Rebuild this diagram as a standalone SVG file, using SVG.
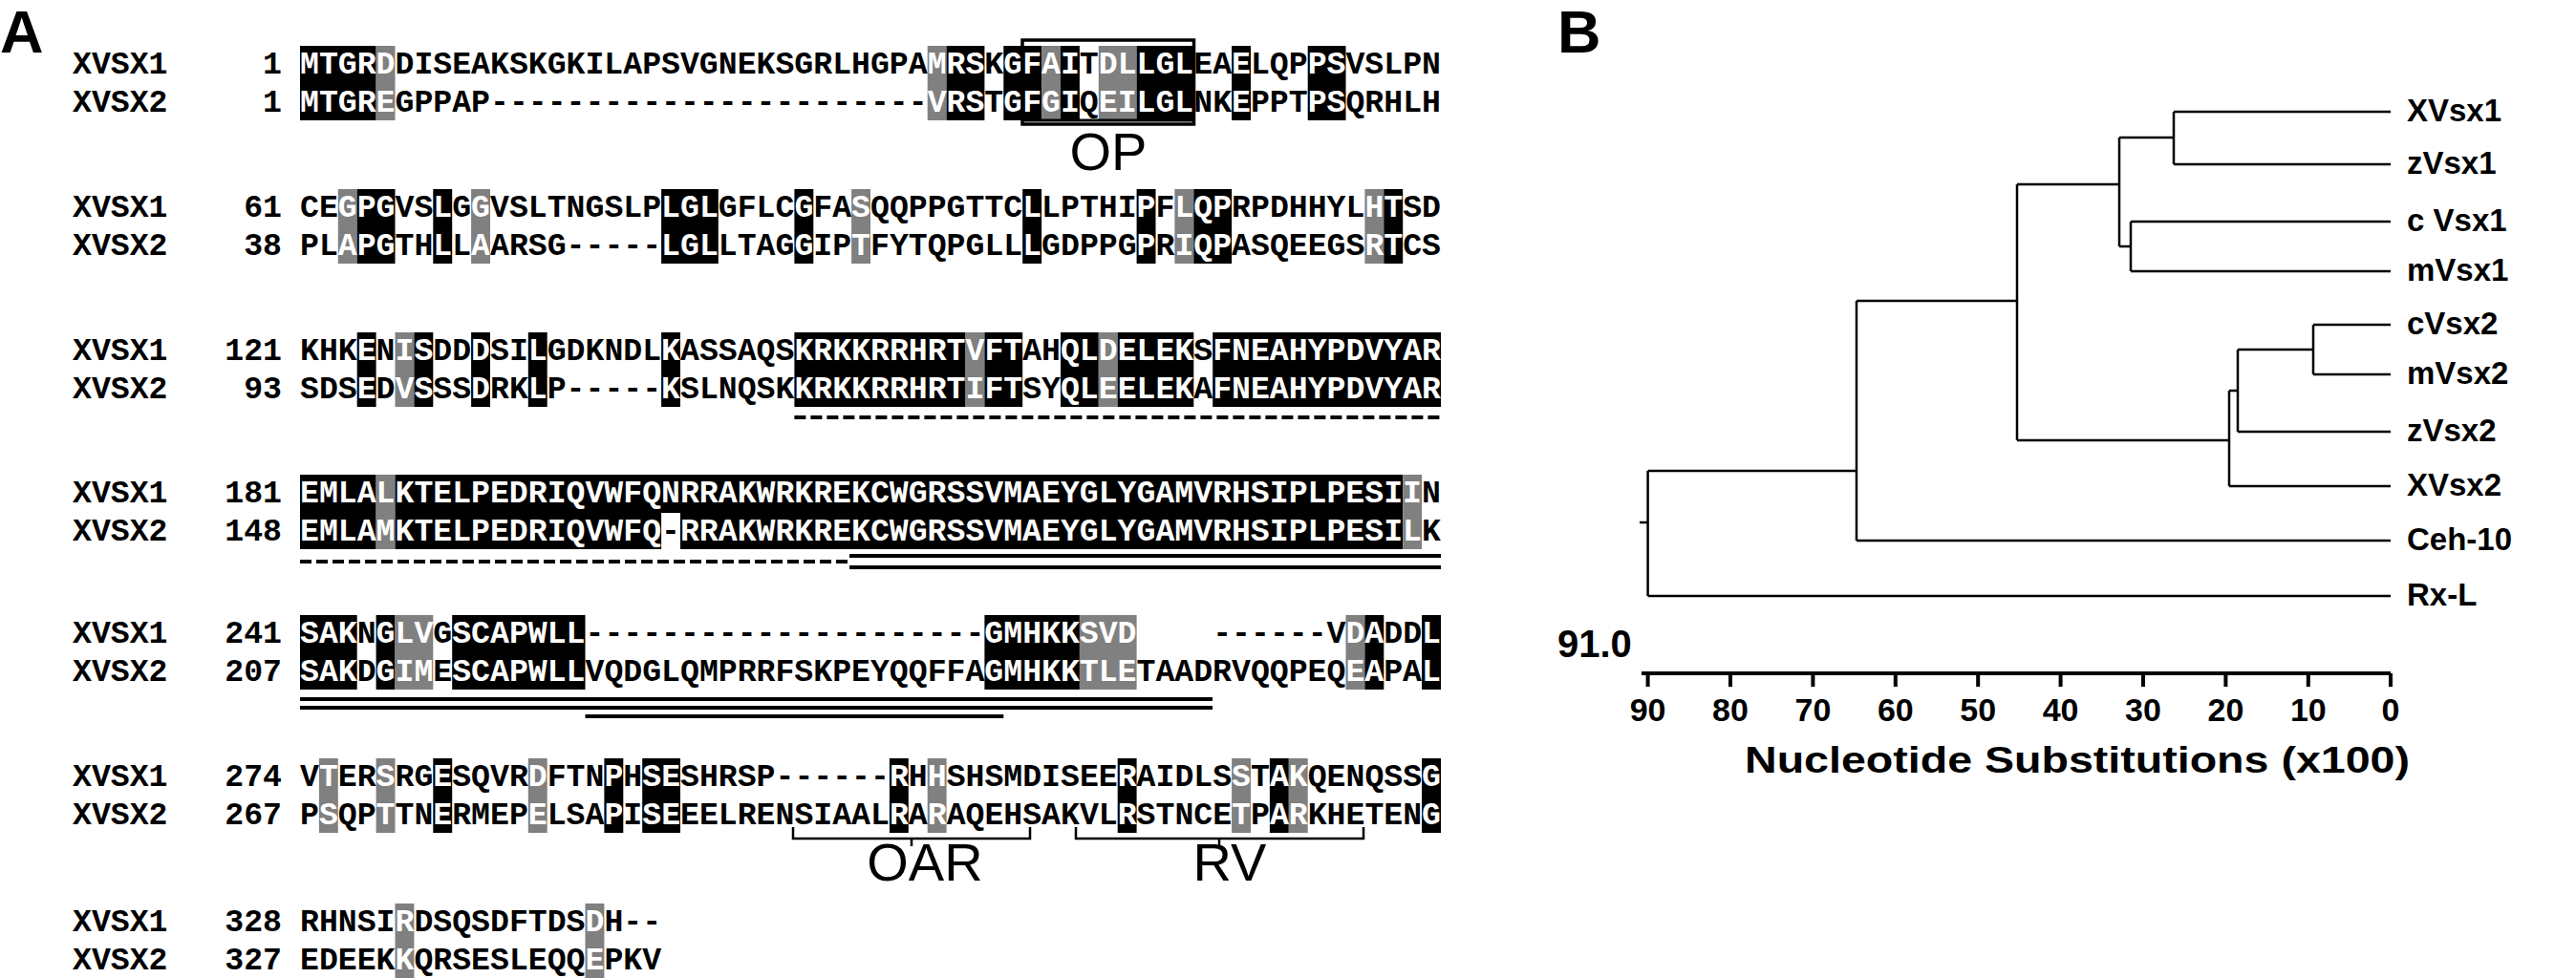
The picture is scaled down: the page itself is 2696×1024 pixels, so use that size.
<svg xmlns="http://www.w3.org/2000/svg" width="2696" height="1024" viewBox="0 0 2696 1024">
<style>
.seq{font-family:"Liberation Mono","DejaVu Sans Mono",monospace;font-size:33.17px;font-weight:bold;fill:#000}
.num{font-family:"Liberation Mono","DejaVu Sans Mono",monospace;font-size:33.17px;font-weight:bold;fill:#000;text-anchor:end}
.w{fill:#fff}
.bk{fill:#000}
.gy{fill:#808080}
.wh{fill:#fff}
.lab{font-family:"Liberation Sans",Arial,sans-serif;font-size:56px;fill:#000;text-anchor:middle}
.pan{font-family:"Liberation Sans",Arial,sans-serif;font-size:63px;font-weight:bold;fill:#000}
.tx{font-family:"Liberation Sans",Arial,sans-serif;font-size:33px;font-weight:bold;fill:#000}
.ln{stroke:#000;stroke-width:4;fill:none}
.tr{stroke:#000;stroke-width:2.5;fill:none}
</style>
<rect width="2696" height="1024" fill="#fff"/>
<text class="pan" x="0" y="55">A</text>
<text class="pan" x="1630" y="55">B</text>

<g id="block1">
<rect class="bk" x="314" y="48" width="79.6" height="78"/>
<rect class="gy" x="393.6" y="48" width="19.9" height="78"/>
<rect class="gy" x="970.7" y="48" width="19.9" height="78"/>
<rect class="bk" x="990.6" y="48" width="39.8" height="78"/>
<rect class="bk" x="1050.3" y="48" width="39.8" height="78"/>
<rect class="gy" x="1090.1" y="48" width="19.9" height="78"/>
<rect class="bk" x="1110" y="48" width="19.9" height="78"/>
<rect class="gy" x="1149.8" y="48" width="39.8" height="78"/>
<rect class="bk" x="1189.6" y="48" width="59.7" height="78"/>
<rect class="bk" x="1289.1" y="48" width="19.9" height="78"/>
<rect class="bk" x="1368.7" y="48" width="39.8" height="78"/>
<text class="seq" x="76" y="77">XVSX1</text><text class="num" x="295" y="77">1</text>
<text class="seq" x="76" y="117">XVSX2</text><text class="num" x="295" y="117">1</text>
<text class="seq" x="314" y="77"><tspan class="w">MTGRD</tspan>DISEAKSKGKILAPSVGNEKSGRLHGPA<tspan class="w">MRS</tspan>K<tspan class="w">GFAI</tspan>T<tspan class="w">DLLGL</tspan>EA<tspan class="w">E</tspan>LQP<tspan class="w">PS</tspan>VSLPN</text>
<text class="seq" x="314" y="117"><tspan class="w">MTGRE</tspan>GPPAP-----------------------<tspan class="w">VRS</tspan>T<tspan class="w">GFGI</tspan>Q<tspan class="w">EILGL</tspan>NK<tspan class="w">E</tspan>PPT<tspan class="w">PS</tspan>QRHLH</text>
<rect x="1070" y="42" width="179.5" height="88" fill="none" stroke="#000" stroke-width="3.5"/>
<line x1="1070" y1="126" x2="1249.5" y2="126" stroke="#000" stroke-width="3"/>
<text class="lab" x="1160" y="178">OP</text>
</g>

<g id="block2">
<rect class="gy" x="353.8" y="198" width="19.9" height="78"/>
<rect class="bk" x="373.7" y="198" width="39.8" height="78"/>
<rect class="bk" x="453.3" y="198" width="19.9" height="78"/>
<rect class="gy" x="493.1" y="198" width="19.9" height="78"/>
<rect class="bk" x="692.1" y="198" width="59.7" height="78"/>
<rect class="bk" x="831.4" y="198" width="19.9" height="78"/>
<rect class="gy" x="891.1" y="198" width="19.9" height="78"/>
<rect class="bk" x="1070.2" y="198" width="19.9" height="78"/>
<rect class="bk" x="1189.6" y="198" width="19.9" height="78"/>
<rect class="gy" x="1229.4" y="198" width="19.9" height="78"/>
<rect class="bk" x="1249.3" y="198" width="39.8" height="78"/>
<rect class="gy" x="1428.4" y="198" width="19.9" height="78"/>
<rect class="bk" x="1448.3" y="198" width="19.9" height="78"/>
<text class="seq" x="76" y="227">XVSX1</text><text class="num" x="295" y="227">61</text>
<text class="seq" x="76" y="267">XVSX2</text><text class="num" x="295" y="267">38</text>
<text class="seq" x="314" y="227">CE<tspan class="w">GPG</tspan>VS<tspan class="w">L</tspan>G<tspan class="w">G</tspan>VSLTNGSLP<tspan class="w">LGL</tspan>GFLC<tspan class="w">G</tspan>FA<tspan class="w">S</tspan>QQPPGTTC<tspan class="w">L</tspan>LPTHI<tspan class="w">P</tspan>F<tspan class="w">LQP</tspan>RPDHHYL<tspan class="w">HT</tspan>SD</text>
<text class="seq" x="314" y="267">PL<tspan class="w">APG</tspan>TH<tspan class="w">L</tspan>L<tspan class="w">A</tspan>ARSG-----<tspan class="w">LGL</tspan>LTAG<tspan class="w">G</tspan>IP<tspan class="w">T</tspan>FYTQPGLL<tspan class="w">L</tspan>GDPPG<tspan class="w">P</tspan>R<tspan class="w">IQP</tspan>ASQEEGS<tspan class="w">RT</tspan>CS</text>
</g>

<g id="block3">
<rect class="bk" x="373.7" y="348" width="19.9" height="78"/>
<rect class="gy" x="413.5" y="348" width="19.9" height="78"/>
<rect class="bk" x="433.4" y="348" width="19.9" height="78"/>
<rect class="bk" x="493.1" y="348" width="19.9" height="78"/>
<rect class="bk" x="552.8" y="348" width="19.9" height="78"/>
<rect class="bk" x="692.1" y="348" width="19.9" height="78"/>
<rect class="bk" x="831.4" y="348" width="179.1" height="78"/>
<rect class="gy" x="1010.5" y="348" width="19.9" height="78"/>
<rect class="bk" x="1030.4" y="348" width="39.8" height="78"/>
<rect class="bk" x="1110" y="348" width="39.8" height="78"/>
<rect class="gy" x="1149.8" y="348" width="19.9" height="78"/>
<rect class="bk" x="1169.7" y="348" width="79.6" height="78"/>
<rect class="bk" x="1269.2" y="348" width="238.8" height="78"/>
<text class="seq" x="76" y="377">XVSX1</text><text class="num" x="295" y="377">121</text>
<text class="seq" x="76" y="417">XVSX2</text><text class="num" x="295" y="417">93</text>
<text class="seq" x="314" y="377">KHK<tspan class="w">E</tspan>N<tspan class="w">IS</tspan>DD<tspan class="w">D</tspan>SI<tspan class="w">L</tspan>GDKNDL<tspan class="w">K</tspan>ASSAQS<tspan class="w">KRKKRRHRTVFT</tspan>AH<tspan class="w">QLDELEK</tspan>S<tspan class="w">FNEAHYPDVYAR</tspan></text>
<text class="seq" x="314" y="417">SDS<tspan class="w">E</tspan>D<tspan class="w">VS</tspan>SS<tspan class="w">D</tspan>RK<tspan class="w">L</tspan>P-----<tspan class="w">K</tspan>SLNQSK<tspan class="w">KRKKRRHRTIFT</tspan>SY<tspan class="w">QLEELEK</tspan>A<tspan class="w">FNEAHYPDVYAR</tspan></text>
<line class="ln" x1="831.4" y1="437" x2="1508" y2="437" stroke-dasharray="12 5"/>
</g>

<g id="block4">
<rect class="bk" x="314" y="497" width="79.6" height="78"/>
<rect class="gy" x="393.6" y="497" width="19.9" height="78"/>
<rect class="bk" x="413.5" y="497" width="1054.7" height="78"/>
<rect class="gy" x="1468.2" y="497" width="19.9" height="78"/>
<rect class="wh" x="692.1" y="537" width="19.9" height="38"/>
<text class="seq" x="76" y="526">XVSX1</text><text class="num" x="295" y="526">181</text>
<text class="seq" x="76" y="566">XVSX2</text><text class="num" x="295" y="566">148</text>
<text class="seq" x="314" y="526"><tspan class="w">EMLALKTELPEDRIQVWFQNRRAKWRKREKCWGRSSVMAEYGLYGAMVRHSIPLPESII</tspan>N</text>
<text class="seq" x="314" y="566"><tspan class="w">EMLAMKTELPEDRIQVWFQ</tspan>-<tspan class="w">RRAKWRKREKCWGRSSVMAEYGLYGAMVRHSIPLPESIL</tspan>K</text>
<line class="ln" x1="314" y1="588" x2="889" y2="588" stroke-dasharray="12 5"/>
<line class="ln" x1="889" y1="582" x2="1508" y2="582"/>
<line class="ln" x1="889" y1="594" x2="1508" y2="594"/>
</g>

<g id="block5">
<rect class="bk" x="314" y="644" width="59.7" height="78"/>
<rect class="bk" x="393.6" y="644" width="19.9" height="78"/>
<rect class="gy" x="413.5" y="644" width="39.8" height="78"/>
<rect class="bk" x="473.2" y="644" width="139.3" height="78"/>
<rect class="bk" x="1030.4" y="644" width="99.5" height="78"/>
<rect class="gy" x="1129.9" y="644" width="59.7" height="78"/>
<rect class="gy" x="1408.5" y="644" width="19.9" height="78"/>
<rect class="bk" x="1428.4" y="644" width="19.9" height="78"/>
<rect class="bk" x="1488.1" y="644" width="19.9" height="78"/>
<text class="seq" x="76" y="673">XVSX1</text><text class="num" x="295" y="673">241</text>
<text class="seq" x="76" y="713">XVSX2</text><text class="num" x="295" y="713">207</text>
<text class="seq" x="314" y="673"><tspan class="w">SAK</tspan>N<tspan class="w">GLV</tspan>G<tspan class="w">SCAPWLL</tspan>---------------------<tspan class="w">GMHKKSVD</tspan></text>
<text class="seq" x="1269.2" y="673">------V<tspan class="w">DA</tspan>DD<tspan class="w">L</tspan></text>
<text class="seq" x="314" y="713"><tspan class="w">SAK</tspan>D<tspan class="w">GIM</tspan>E<tspan class="w">SCAPWLL</tspan>VQDGLQMPRRFSKPEYQQFFA<tspan class="w">GMHKKTLE</tspan>TAADRVQQPEQ<tspan class="w">EA</tspan>PA<tspan class="w">L</tspan></text>
<line class="ln" x1="314" y1="732" x2="1269" y2="732"/>
<line class="ln" x1="314" y1="741" x2="1269" y2="741"/>
<line class="ln" x1="612.5" y1="750" x2="1050.3" y2="750"/>
</g>

<g id="block6">
<rect class="gy" x="333.9" y="794" width="19.9" height="78"/>
<rect class="gy" x="393.6" y="794" width="19.9" height="78"/>
<rect class="bk" x="453.3" y="794" width="19.9" height="78"/>
<rect class="gy" x="552.8" y="794" width="19.9" height="78"/>
<rect class="bk" x="632.4" y="794" width="19.9" height="78"/>
<rect class="bk" x="672.2" y="794" width="39.8" height="78"/>
<rect class="bk" x="930.9" y="794" width="19.9" height="78"/>
<rect class="gy" x="970.7" y="794" width="19.9" height="78"/>
<rect class="bk" x="1169.7" y="794" width="19.9" height="78"/>
<rect class="gy" x="1289.1" y="794" width="19.9" height="78"/>
<rect class="bk" x="1328.9" y="794" width="19.9" height="78"/>
<rect class="gy" x="1348.8" y="794" width="19.9" height="78"/>
<rect class="bk" x="1488.1" y="794" width="19.9" height="78"/>
<text class="seq" x="76" y="823">XVSX1</text><text class="num" x="295" y="823">274</text>
<text class="seq" x="76" y="863">XVSX2</text><text class="num" x="295" y="863">267</text>
<text class="seq" x="314" y="823">V<tspan class="w">T</tspan>ER<tspan class="w">S</tspan>RG<tspan class="w">E</tspan>SQVR<tspan class="w">D</tspan>FTN<tspan class="w">P</tspan>H<tspan class="w">SE</tspan>SHRSP------<tspan class="w">R</tspan>H<tspan class="w">H</tspan>SHSMDISEE<tspan class="w">R</tspan>AIDLS<tspan class="w">S</tspan>T<tspan class="w">AK</tspan>QENQSS<tspan class="w">G</tspan></text>
<text class="seq" x="314" y="863">P<tspan class="w">S</tspan>QP<tspan class="w">T</tspan>TN<tspan class="w">E</tspan>RMEP<tspan class="w">E</tspan>LSA<tspan class="w">P</tspan>I<tspan class="w">SE</tspan>EELRENSIAAL<tspan class="w">R</tspan>A<tspan class="w">R</tspan>AQEHSAKVL<tspan class="w">R</tspan>STNCE<tspan class="w">T</tspan>P<tspan class="w">AR</tspan>KHETEN<tspan class="w">G</tspan></text>
<path class="tr" d="M830,866 V878 H1078 V866 M954,878 V886" stroke-width="2.5"/>
<path class="tr" d="M1126,866 V878 H1427 V866 M1276,878 V886" stroke-width="2.5"/>
<text class="lab" x="968" y="922">OAR</text>
<text class="lab" x="1287" y="922">RV</text>
</g>

<g id="block7">
<rect class="gy" x="413.5" y="946" width="19.9" height="78"/>
<rect class="gy" x="612.5" y="946" width="19.9" height="78"/>
<text class="seq" x="76" y="975">XVSX1</text><text class="num" x="295" y="975">328</text>
<text class="seq" x="76" y="1015">XVSX2</text><text class="num" x="295" y="1015">327</text>
<text class="seq" x="314" y="975">RHNSI<tspan class="w">R</tspan>DSQSDFTDS<tspan class="w">D</tspan>H--</text>
<text class="seq" x="314" y="1015">EDEEK<tspan class="w">K</tspan>QRSESLEQQ<tspan class="w">E</tspan>PKV</text>
</g>

<g id="tree">
<path class="tr" d="M1716,547 H1724.6 M1724.6,493 V624 M1724.6,624 H2502 M1724.6,493 H1943 M1943,315 V566 M1943,566 H2502 M1943,315 H2111 M2111,193 V461 M2111,193 H2218 M2218,144 V258 M2218,144 H2275 M2275,117 V172 M2275,117 H2502 M2275,172 H2502 M2218,258 H2230 M2230,232 V284 M2230,232 H2502 M2230,284 H2502 M2111,461 H2333 M2333,409 V509 M2333,509 H2502 M2333,409 H2342 M2342,366 V452 M2342,452 H2502 M2342,366 H2421 M2421,340 V392 M2421,340 H2502 M2421,392 H2502"/>
</g>
<g id="labels">
<text class="tx" x="2519" y="127">XVsx1</text>
<text class="tx" x="2519" y="182">zVsx1</text>
<text class="tx" x="2519" y="242">c Vsx1</text>
<text class="tx" x="2519" y="294">mVsx1</text>
<text class="tx" x="2519" y="350">cVsx2</text>
<text class="tx" x="2519" y="402">mVsx2</text>
<text class="tx" x="2519" y="462">zVsx2</text>
<text class="tx" x="2519" y="519">XVsx2</text>
<text class="tx" x="2519" y="576">Ceh-10</text>
<text class="tx" x="2519" y="634">Rx-L</text>
</g>
<g id="axis">
<path class="ln" d="M1718,705 H2502 M1724.6,705 V719 M1811,705 V719 M1897.4,705 V719 M1983.8,705 V719 M2070.2,705 V719 M2156.6,705 V719 M2243,705 V719 M2329.4,705 V719 M2415.8,705 V719 M2502,705 V719" stroke-width="3"/>
<text class="tx" x="1630" y="688" style="font-size:40px">91.0</text>
<g class="tx" text-anchor="middle" style="font-size:34px">
<text x="1724.6" y="755">90</text><text x="1811" y="755">80</text><text x="1897.4" y="755">70</text><text x="1983.8" y="755">60</text><text x="2070.2" y="755">50</text><text x="2156.6" y="755">40</text><text x="2243" y="755">30</text><text x="2329.4" y="755">20</text><text x="2415.8" y="755">10</text><text x="2502" y="755">0</text>
</g>
<text class="tx" x="2174" y="809" text-anchor="middle" textLength="696" lengthAdjust="spacingAndGlyphs" style="font-size:38px">Nucleotide Substitutions (x100)</text>
</g>
</svg>
